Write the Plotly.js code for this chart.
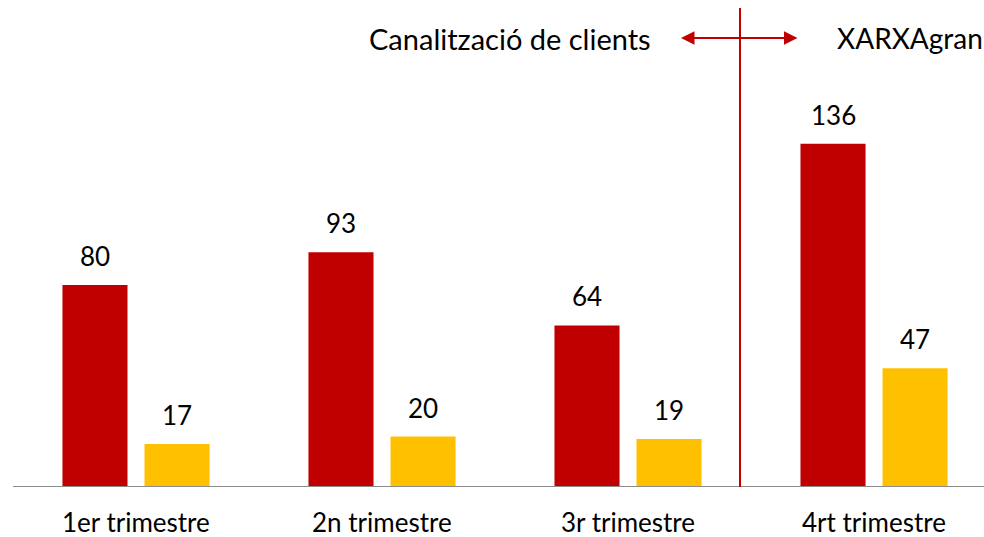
<!DOCTYPE html>
<html>
<head>
<meta charset="utf-8">
<script src="https://cdn.plot.ly/plotly-3.0.1.min.js"></script>
<style>html,body{margin:0;padding:0;background:#fff;}#chart{width:984px;height:537px;}</style>
</head>
<body>
<div id="chart"></div>
<script>
var categories = ["1er trimestre", "2n trimestre", "3r trimestre", "4rt trimestre"];
var seriesA = [80, 93, 64, 136];
var seriesB = [17, 20, 19, 47];
var leftLabel = "Canalització de clients";
var rightLabel = "XARXAgran";

var FONT = "Lato, 'Liberation Sans', sans-serif";
var idx = categories.map(function(_, i){ return i; });

var traces = [
  {type: "bar", x: idx, y: seriesA, marker: {color: "#c00000"}, hoverinfo: "none"},
  {type: "bar", x: idx, y: seriesB, marker: {color: "#ffc000"}, hoverinfo: "none"}
];

var W = 984, H = 537, ml = 13, mr = 0, mt = 0, mb = 50;
var pw = W - ml - mr, ph = H - mt - mb;
function px(xp){ return (xp - ml) / pw; }
function py(yp){ return 1 - (yp - mt) / ph; }

var annotations = [];
var off = 0.1667; // offset of each bar centre from the category centre
idx.forEach(function(i){
  annotations.push({x: i - off, y: seriesA[i], xref: "x", yref: "y", text: String(seriesA[i]),
    showarrow: false, yanchor: "middle", yshift: 29, font: {family: FONT, size: 26, color: "#000"}});
  annotations.push({x: i + off, y: seriesB[i], xref: "x", yref: "y", text: String(seriesB[i]),
    showarrow: false, yanchor: "middle", yshift: 29, font: {family: FONT, size: 26, color: "#000"}});
  // category labels under the axis
  annotations.push({x: i, y: 0, xref: "x", yref: "y", text: categories[i], showarrow: false,
    yanchor: "middle", yshift: -35, font: {family: FONT, size: 26, color: "#000"}});
});
annotations.push({x: px(653), y: py(38), xref: "paper", yref: "paper",
  xanchor: "right", yanchor: "middle", text: leftLabel, showarrow: false, font: {family: FONT, size: 29, color: "#000"}});
annotations.push({x: px(835), y: py(38), xref: "paper", yref: "paper",
  xanchor: "left", yanchor: "middle", text: rightLabel, showarrow: false, font: {family: FONT, size: 28, color: "#000"}});
annotations.push({x: px(681), y: py(38), ax: px(799), ay: py(38),
  xref: "paper", yref: "paper", axref: "paper", ayref: "paper", text: "", showarrow: true,
  arrowhead: 2, startarrowhead: 2, arrowside: "end+start", arrowwidth: 1.8, arrowsize: 1.5, startarrowsize: 1.5, arrowcolor: "#c00000"});

var layout = {
  width: W, height: H,
  margin: {l: ml, r: mr, t: mt, b: mb, pad: 0},
  paper_bgcolor: "#fff", plot_bgcolor: "#fff",
  showlegend: false,
  barmode: "group", bargap: 0.333, bargroupgap: 0.207,
  xaxis: {range: [-0.5, 3.447], showticklabels: false, showgrid: false, zeroline: false,
    showline: false, ticks: "", fixedrange: true},
  yaxis: {range: [0, 192.9], visible: false, fixedrange: true},
  shapes: [
    {type: "line", xref: "paper", yref: "y", x0: 0, x1: 1, y0: 0, y1: 0, line: {color: "#8c8c8c", width: 2}},
    {type: "line", xref: "paper", yref: "paper", x0: px(740), x1: px(740),
      y0: 0, y1: py(8), line: {color: "#c00000", width: 2}}
  ],
  annotations: annotations
};

Plotly.newPlot("chart", traces, layout, {displayModeBar: false, staticPlot: true});
</script>
</body>
</html>
